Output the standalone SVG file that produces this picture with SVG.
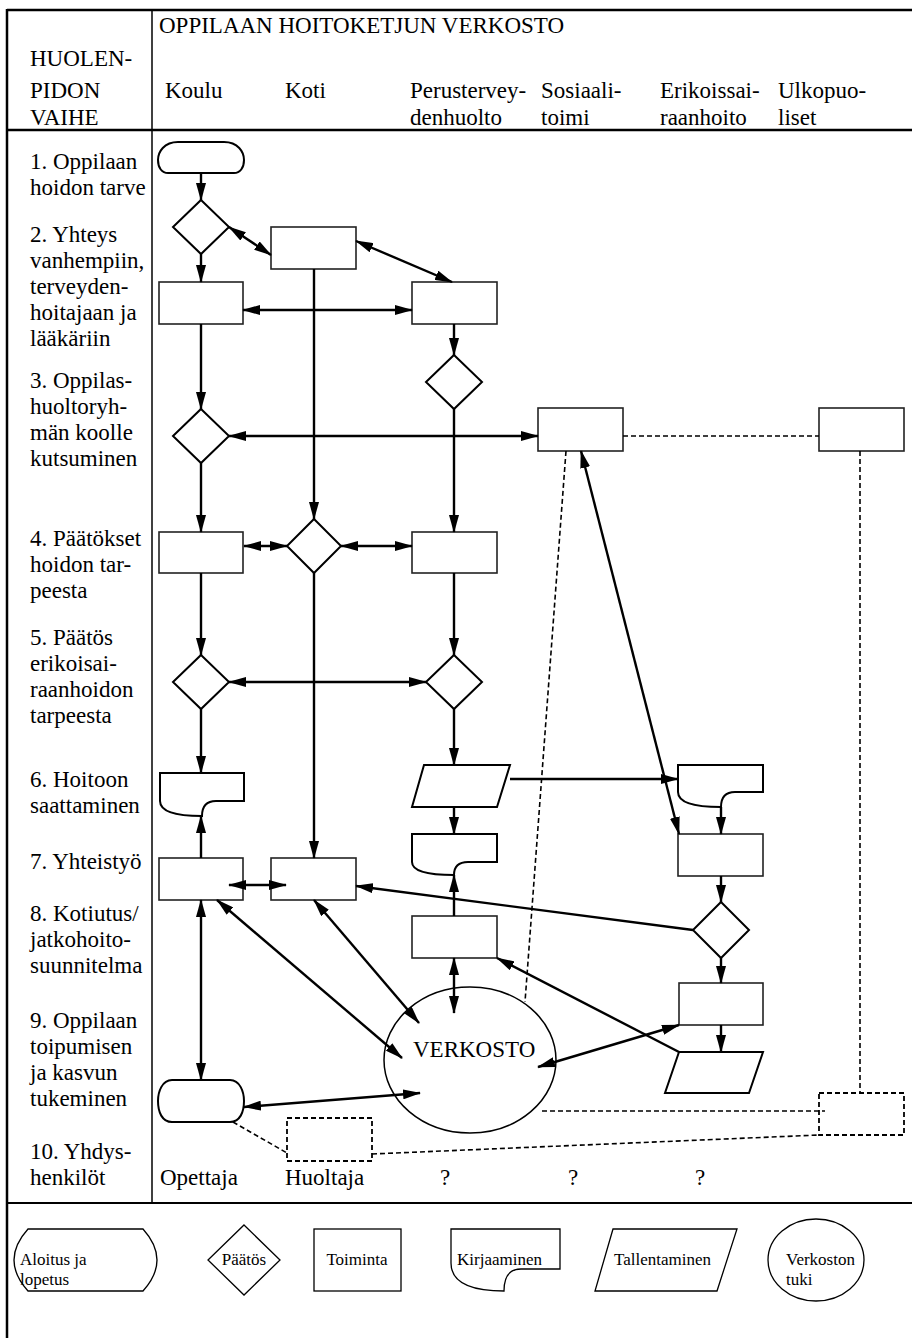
<svg xmlns="http://www.w3.org/2000/svg" width="912" height="1338" viewBox="0 0 912 1338">
<style>
text{font-family:"Liberation Serif","Times New Roman",serif;fill:#000}
.t{font-size:23px}
.s{font-size:17px}
.m{text-anchor:middle}
.fr{stroke:#000;fill:none}
.box{fill:#fff;stroke:#222;stroke-width:1.6}
.dec{fill:#fff;stroke:#000;stroke-width:2}
.dbox{fill:#fff;stroke:#000;stroke-width:1.8;stroke-dasharray:5 3}
.c{fill:none;stroke:#000;stroke-width:2.4}
.a{marker-end:url(#ah)}
.b{marker-start:url(#ah);marker-end:url(#ah)}
.d{fill:none;stroke:#000;stroke-width:1.6;stroke-dasharray:5 3}
.lg{fill:#fff;stroke:#000;stroke-width:1.3}
</style>
<defs>
<marker id="ah" viewBox="0 0 18 10" refX="17" refY="5" markerWidth="18" markerHeight="10" markerUnits="userSpaceOnUse" orient="auto-start-reverse"><path d="M0,0 L18,5 L0,10 Z" fill="#000"/></marker>
</defs>
<rect width="912" height="1338" fill="#fff"/>
<g id="frame">
<line class="fr" x1="7" y1="10" x2="912" y2="10" stroke-width="2.5"/>
<line class="fr" x1="7" y1="9" x2="7" y2="1338" stroke-width="2.5"/>
<line class="fr" x1="152" y1="10" x2="152" y2="1203" stroke-width="1.5"/>
<line class="fr" x1="7" y1="130" x2="912" y2="130" stroke-width="2.5"/>
<line class="fr" x1="7" y1="1203" x2="912" y2="1203" stroke-width="2"/>
</g>
<g id="header">
<text class="t" x="159" y="33">OPPILAAN HOITOKETJUN VERKOSTO</text>
<text class="t" x="30" y="66">HUOLEN-</text>
<text class="t" x="30" y="98">PIDON</text>
<text class="t" x="30" y="125">VAIHE</text>
<text class="t" x="165" y="98">Koulu</text>
<text class="t" x="285" y="98">Koti</text>
<text class="t" x="410" y="98">Perustervey-</text>
<text class="t" x="410" y="125">denhuolto</text>
<text class="t" x="541" y="98">Sosiaali-</text>
<text class="t" x="541" y="125">toimi</text>
<text class="t" x="660" y="98">Erikoissai-</text>
<text class="t" x="660" y="125">raanhoito</text>
<text class="t" x="778" y="98">Ulkopuo-</text>
<text class="t" x="778" y="125">liset</text>
</g>
<g id="phases">
<text class="t" x="30" y="169">1. Oppilaan</text>
<text class="t" x="30" y="195">hoidon tarve</text>
<text class="t" x="30" y="242">2. Yhteys</text>
<text class="t" x="30" y="268">vanhempiin,</text>
<text class="t" x="30" y="294">terveyden-</text>
<text class="t" x="30" y="320">hoitajaan ja</text>
<text class="t" x="30" y="346">lääkäriin</text>
<text class="t" x="30" y="388">3. Oppilas-</text>
<text class="t" x="30" y="414">huoltoryh-</text>
<text class="t" x="30" y="440">män koolle</text>
<text class="t" x="30" y="466">kutsuminen</text>
<text class="t" x="30" y="546">4. Päätökset</text>
<text class="t" x="30" y="572">hoidon tar-</text>
<text class="t" x="30" y="598">peesta</text>
<text class="t" x="30" y="645">5. Päätös</text>
<text class="t" x="30" y="671">erikoisai-</text>
<text class="t" x="30" y="697">raanhoidon</text>
<text class="t" x="30" y="723">tarpeesta</text>
<text class="t" x="30" y="787">6. Hoitoon</text>
<text class="t" x="30" y="813">saattaminen</text>
<text class="t" x="30" y="869">7. Yhteistyö</text>
<text class="t" x="30" y="921">8. Kotiutus/</text>
<text class="t" x="30" y="947">jatkohoito-</text>
<text class="t" x="30" y="973">suunnitelma</text>
<text class="t" x="30" y="1028">9. Oppilaan</text>
<text class="t" x="30" y="1054">toipumisen</text>
<text class="t" x="30" y="1080">ja kasvun</text>
<text class="t" x="30" y="1106">tukeminen</text>
<text class="t" x="30" y="1159">10. Yhdys-</text>
<text class="t" x="30" y="1185">henkilöt</text>
</g>
<g id="contacts">
<text class="t" x="160" y="1185">Opettaja</text>
<text class="t" x="285" y="1185">Huoltaja</text>
<text class="t m" x="445" y="1185">?</text>
<text class="t m" x="573" y="1185">?</text>
<text class="t m" x="700" y="1185">?</text>
</g>
<g id="n_start"><path class="dec" d="M178,142 H224 C238,142 244,152 244,160 C244,168 240,173 234,173 H168 C162,173 158,168 158,160 C158,152 164,142 178,142 Z"/></g>
<g id="n_koulu_d1"><path class="dec" d="M201,200 L229,227 L201,254 L173,227 Z"/></g>
<g id="n_koti_b2"><rect class="box" x="271" y="227" width="85" height="42"/></g>
<g id="n_koulu_b2"><rect class="box" x="159" y="282" width="84" height="42"/></g>
<g id="n_perus_b2"><rect class="box" x="412" y="282" width="85" height="42"/></g>
<g id="n_perus_d3"><path class="dec" d="M454,355 L482,382 L454,409 L426,382 Z"/></g>
<g id="n_koulu_d3"><path class="dec" d="M201,409 L229,436 L201,463 L173,436 Z"/></g>
<g id="n_sos_b3"><rect class="box" x="538" y="408" width="85" height="43"/></g>
<g id="n_ulko_b3"><rect class="box" x="819" y="408" width="85" height="43"/></g>
<g id="n_koulu_b4"><rect class="box" x="159" y="532" width="84" height="41"/></g>
<g id="n_koti_d4"><path class="dec" d="M314,519 L341,546 L314,573 L287,546 Z"/></g>
<g id="n_perus_b4"><rect class="box" x="412" y="532" width="85" height="41"/></g>
<g id="n_koulu_d5"><path class="dec" d="M201,655 L229,682 L201,709 L173,682 Z"/></g>
<g id="n_perus_d5"><path class="dec" d="M454,655 L482,682 L454,709 L426,682 Z"/></g>
<g id="n_koulu_doc6"><path class="dec" d="M160,773 H244 V801 H216 Q202,801 202,816 Q160,816 160,801 Z"/></g>
<g id="n_perus_par6"><polygon class="dec" points="424,765 510,765 497,807 412,807"/></g>
<g id="n_erik_doc6"><path class="dec" d="M678,765 H763 V792 H735 Q721,792 721,807 Q678,807 678,792 Z"/></g>
<g id="n_koulu_b7"><rect class="box" x="159" y="858" width="84" height="42"/></g>
<g id="n_koti_b7"><rect class="box" x="271" y="858" width="85" height="42"/></g>
<g id="n_perus_doc7"><path class="dec" d="M412,834 H497 V862 H468 Q454,862 454,875 Q412,875 412,862 Z"/></g>
<g id="n_erik_b7"><rect class="box" x="678" y="834" width="85" height="42"/></g>
<g id="n_perus_b8"><rect class="box" x="412" y="916" width="85" height="42"/></g>
<g id="n_erik_d8"><path class="dec" d="M721,902 L749,930 L721,958 L693,930 Z"/></g>
<g id="n_erik_b9"><rect class="box" x="679" y="983" width="84" height="42"/></g>
<g id="n_verkosto"><ellipse cx="470" cy="1060" rx="86" ry="73" fill="#fff" stroke="#000" stroke-width="1.5"/><text class="t" x="413" y="1057">VERKOSTO</text></g>
<g id="n_koulu_term9"><path class="dec" d="M172,1080 H230 C240,1080 244,1092 244,1101 C244,1112 240,1122 230,1122 H172 C162,1122 158,1112 158,1101 C158,1092 162,1080 172,1080 Z"/></g>
<g id="n_erik_par9"><polygon class="dec" points="679,1052 763,1052 749,1093 665,1093"/></g>
<g id="n_koti_dbox10"><rect class="dbox" x="287" y="1118" width="85" height="43"/></g>
<g id="n_ulko_dbox9"><rect class="dbox" x="819" y="1093" width="85" height="42"/></g>
<g id="connectors">
<line class="c a" x1="201" y1="173" x2="201" y2="200"/>
<line class="c b" x1="229" y1="227" x2="271" y2="255"/>
<line class="c b" x1="356" y1="241" x2="452" y2="282"/>
<line class="c a" x1="201" y1="254" x2="201" y2="282"/>
<line class="c b" x1="243" y1="310" x2="412" y2="310"/>
<line class="c a" x1="314" y1="269" x2="314" y2="519"/>
<line class="c a" x1="201" y1="324" x2="201" y2="409"/>
<line class="c a" x1="454" y1="324" x2="454" y2="355"/>
<line class="c b" x1="229" y1="436" x2="538" y2="436"/>
<line class="c a" x1="201" y1="463" x2="201" y2="532"/>
<line class="c a" x1="454" y1="409" x2="454" y2="532"/>
<line class="c b" x1="244" y1="546" x2="287" y2="546"/>
<line class="c b" x1="341" y1="546" x2="412" y2="546"/>
<line class="c a" x1="201" y1="573" x2="201" y2="655"/>
<line class="c a" x1="314" y1="573" x2="314" y2="858"/>
<line class="c a" x1="454" y1="573" x2="454" y2="655"/>
<line class="c b" x1="229" y1="682" x2="426" y2="682"/>
<line class="c a" x1="201" y1="709" x2="201" y2="773"/>
<line class="c a" x1="454" y1="709" x2="454" y2="765"/>
<line class="c a" x1="510" y1="779" x2="678" y2="779"/>
<line class="c b" x1="581" y1="451" x2="679" y2="834"/>
<line class="c a" x1="454" y1="807" x2="454" y2="834"/>
<line class="c a" x1="721" y1="807" x2="721" y2="834"/>
<line class="c a" x1="201" y1="858" x2="201" y2="816"/>
<line class="c a" x1="454" y1="916" x2="454" y2="875"/>
<line class="c a" x1="721" y1="876" x2="721" y2="902"/>
<line class="c a" x1="693" y1="930" x2="356" y2="886"/>
<line class="c b" x1="229" y1="885" x2="286" y2="885"/>
<line class="c a" x1="721" y1="958" x2="721" y2="983"/>
<line class="c a" x1="721" y1="1025" x2="721" y2="1052"/>
<line class="c a" x1="679" y1="1052" x2="497" y2="958"/>
<line class="c b" x1="679" y1="1025" x2="538" y2="1067"/>
<line class="c b" x1="454" y1="958" x2="454" y2="1013"/>
<line class="c b" x1="314" y1="900" x2="419" y2="1023"/>
<line class="c b" x1="217" y1="900" x2="402" y2="1058"/>
<line class="c b" x1="201" y1="900" x2="201" y2="1080"/>
<line class="c b" x1="244" y1="1107" x2="420" y2="1093"/>
<line class="d" x1="623" y1="436" x2="819" y2="436"/>
<line class="d" x1="566" y1="451" x2="525" y2="1002"/>
<line class="d" x1="860" y1="451" x2="860" y2="1093"/>
<line class="d" x1="542" y1="1111" x2="825" y2="1111"/>
<line class="d" x1="233" y1="1122" x2="287" y2="1153"/>
<line class="d" x1="372" y1="1154" x2="819" y2="1135"/>
</g>
<g id="legend">
<g id="lg_start"><path class="lg" d="M28,1229 H143 Q171,1260 143,1291 H28 Q0,1260 28,1229 Z"/><text class="s" x="20" y="1265">Aloitus ja</text><text class="s" x="20" y="1285">lopetus</text></g>
<g id="lg_decision"><path class="lg" d="M244,1225 L280,1260 L244,1295 L208,1260 Z"/><text class="s m" x="244" y="1265">Päätös</text></g>
<g id="lg_action"><rect class="lg" x="314" y="1229" width="87" height="62"/><text class="s m" x="357" y="1265">Toiminta</text></g>
<g id="lg_record"><path class="lg" d="M451,1229 H560 V1269 H521 Q504,1269 504,1291 Q451,1291 451,1263 Z"/><text class="s" x="457" y="1265">Kirjaaminen</text></g>
<g id="lg_store"><polygon class="lg" points="613,1229 737,1229 717,1291 595,1291"/><text class="s" x="614" y="1265">Tallentaminen</text></g>
<g id="lg_network"><ellipse class="lg" cx="816" cy="1260" rx="48" ry="41"/><text class="s" x="786" y="1265">Verkoston</text><text class="s" x="786" y="1285">tuki</text></g>
</g>
</svg>
